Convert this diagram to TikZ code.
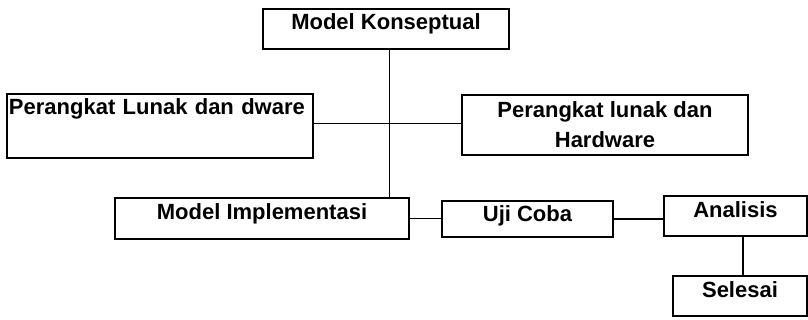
\documentclass[tikz,border=0pt]{standalone}
\usepackage{fontspec}
\setmainfont{Liberation Sans}
\usetikzlibrary{calc}

\begin{document}
\begin{tikzpicture}[x=1pt,y=-1pt,
  box/.style={draw, line width=1.4pt, inner sep=0pt,
    font=\fontsize{22}{30}\selectfont\bfseries},
  lift/.style={text height=16pt, text depth=#1},
  link/.style={line width=1.2pt}]
  \useasboundingbox (0,0) rectangle (808,320);
  % boxes
  \node[box, lift=14pt, minimum width=246pt, minimum height=40pt] (mk) at (386,29) {Model Konseptual};
  \node[box, lift=38pt, minimum width=306pt, minimum height=64pt,
    text width=302pt, align=left] (pl) at (160,126) {\mbox{Perangkat Lunak dan dware}};
  \node[box, minimum width=286pt, minimum height=60pt, align=center] (ph) at (605,125) {Perangkat lunak dan\\Hardware};
  \node[box, lift=13pt, minimum width=294pt, minimum height=41pt] (mi) at (262,218.5) {Model Implementasi};
  \node[box, lift=10pt, minimum width=171pt, minimum height=36pt] (uc) at (527.5,219) {Uji Coba};
  \node[box, lift=12pt, minimum width=143pt, minimum height=40pt] (an) at (735.5,216) {Analisis};
  \node[box, lift=12pt, minimum width=134pt, minimum height=40pt] (sl) at (740,296) {Selesai};
  \coordinate (trunk) at (389.5,123.5);
  % connectors
  \draw[link] (mk.south -| trunk) -- (mi.north -| trunk);
  \draw[link] (pl.east |- trunk) -- (trunk) -- (ph.west |- trunk);
  \draw[link] (mi.east) -- (mi.east -| uc.west);
  \draw[link] (uc.east) -- (uc.east -| an.west);
  \draw[link] ([xshift=7.5pt]an.south) -- ([xshift=7.5pt]an.south |- sl.north);
\end{tikzpicture}
\end{document}
